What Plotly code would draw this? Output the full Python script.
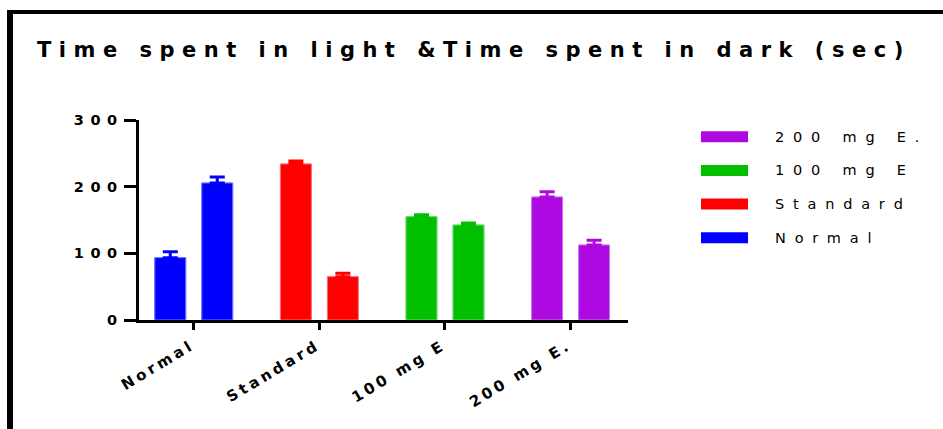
import plotly.graph_objects as go

categories = ["Normal", "Standard", "100 mg E", "200 mg E."]
light_vals = [93.5, 234, 155, 184.5]
dark_vals = [205.5, 65, 142.5, 112.5]
light_err = [9, 4.5, 3, 8]
dark_err = [9, 5, 3, 7]
colors = ["#0000FF", "#FF0000", "#00C000", "#AC0AE0"]
yticks = [0, 100, 200, 300]
title_text = "Time spent in light &Time spent in dark (sec)"

W, H = 943, 429
ML, MR, MT, MB = 139, 315, 120, 109
PW, PH = W - ML - MR, H - MT - MB
FONT = "DejaVu Sans, Liberation Sans, Arial, sans-serif"


def xp(px):
    return (px - ML) / PW


def yp(py):
    return (H - MB - py) / PH


def spaced(t, ls):
    # letter-spacing on all characters except the last (no trailing gap)
    if len(t) < 2:
        return t
    return '<span style="letter-spacing:%spx">%s</span>%s' % (ls, t[:-1], t[-1])


fig = go.Figure()
for i, (name, vals, errs) in enumerate([("light", light_vals, light_err),
                                         ("dark", dark_vals, dark_err)]):
    fig.add_trace(go.Bar(
        x=categories, y=vals, name=name, showlegend=False,
        marker=dict(color=colors, line=dict(color=colors, width=1)),
        offsetgroup=str(i),
    ))
    # coloured upper error bars, one invisible bar per category
    for j, c in enumerate(categories):
        fig.add_trace(go.Bar(
            x=[c], y=[vals[j]], showlegend=False, offsetgroup=str(i),
            marker=dict(color="rgba(0,0,0,0)"),
            error_y=dict(type="data", array=[errs[j]], arrayminus=[0],
                         symmetric=False, thickness=3, width=7.5, color=colors[j]),
            hoverinfo="skip",
        ))

fig.update_layout(
    width=W, height=H,
    margin=dict(l=ML, r=MR, t=MT, b=MB, autoexpand=False),
    paper_bgcolor="white", plot_bgcolor="white",
    barmode="group", bargap=0.252, bargroupgap=0.342,
    font=dict(family=FONT, color="black"),
    xaxis=dict(
        range=[-0.436, 3.457], showline=True, linewidth=3, linecolor="black",
        ticks="outside", ticklen=7, tickwidth=3, tickcolor="black",
        tickangle=-31, tickvals=categories,
        ticktext=[spaced(c, 3.5) for c in categories],
        tickfont=dict(size=15, weight="bold", family=FONT),
        ticklabelstandoff=3, ticklabelshift=-5,
        showgrid=False, zeroline=False,
    ),
    yaxis=dict(
        range=[0, 300], showline=True, linewidth=3, linecolor="black",
        ticks="outside", ticklen=12, tickwidth=3, tickcolor="black",
        tickvals=yticks, ticktext=[spaced(str(v), 6.5) for v in yticks],
        tickfont=dict(size=14.5, weight="bold", family=FONT),
        ticklabelstandoff=4,
        showgrid=False, zeroline=False,
    ),
)

# title
fig.add_annotation(
    xref="paper", yref="paper", x=xp(35), y=yp(50), xanchor="left", yanchor="middle",
    text=spaced(title_text, 7.5), showarrow=False,
    font=dict(size=21, weight="bold", color="black", family=FONT),
)

# legend (top to bottom: reversed order)
for k, idx in enumerate([3, 2, 1, 0]):
    cy = 136.7 + 33.7 * k
    fig.add_shape(type="rect", xref="paper", yref="paper",
                  x0=xp(701), x1=xp(748), y0=yp(cy - 5.5), y1=yp(cy + 5.5),
                  fillcolor=colors[idx], line=dict(width=0))
    fig.add_annotation(
        xref="paper", yref="paper", x=xp(773), y=yp(cy), xanchor="left", yanchor="middle",
        text=spaced(categories[idx], 8.8), showarrow=False,
        font=dict(size=14.5, color="black", family=FONT),
    )

# frame
fig.add_shape(type="line", xref="paper", yref="paper",
              x0=xp(7), x1=xp(960), y0=yp(12), y1=yp(12), line=dict(color="black", width=4))
fig.add_shape(type="line", xref="paper", yref="paper",
              x0=xp(10), x1=xp(10), y0=yp(10), y1=yp(460), line=dict(color="black", width=6))

fig.write_html("out.html")
